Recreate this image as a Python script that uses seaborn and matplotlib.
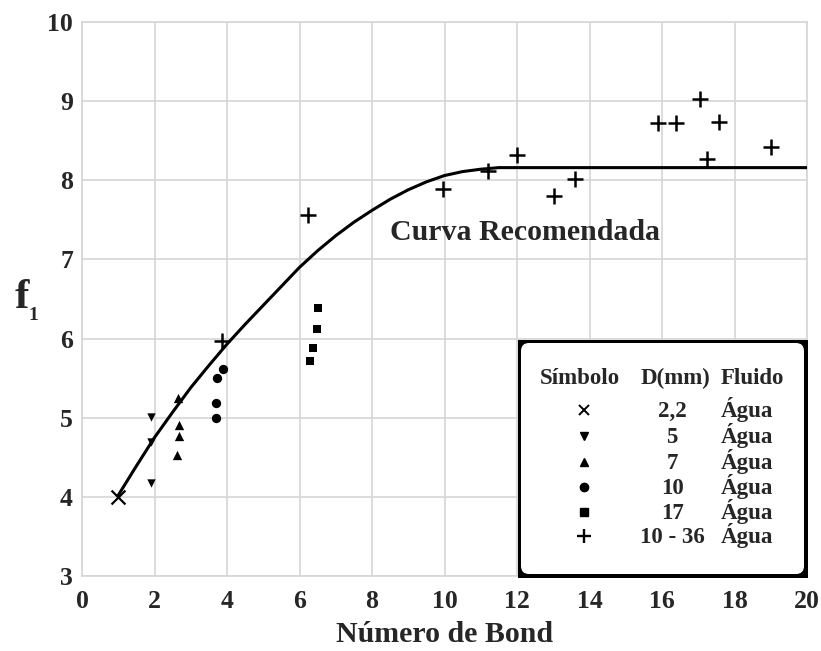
import matplotlib
matplotlib.use("Agg")
import matplotlib.pyplot as plt
import seaborn as sns
import pandas as pd
from matplotlib.patches import Rectangle, FancyBboxPatch
from matplotlib.transforms import IdentityTransform

# recommended curve
curve_x = [1.0, 1.5, 2.0, 2.5, 3.0, 3.5, 4.0, 4.5, 5.0, 5.5, 6.0, 6.5, 7.0,
           7.5, 8.0, 8.5, 9.0, 9.5, 10.0, 10.5, 11.0, 11.5, 20.0]
curve_y = [4.02, 4.39, 4.75, 5.07, 5.38, 5.66, 5.93, 6.18, 6.42, 6.66, 6.90,
           7.11, 7.30, 7.47, 7.62, 7.76, 7.88, 7.98, 8.06, 8.11, 8.14, 8.16, 8.16]

# measured points per group
x_22 = [1.0]
y_22 = [4.0]
x_5 = [1.9, 1.9, 1.9]
y_5 = [5.01, 4.69, 4.17]
x_7 = [2.65, 2.68, 2.68, 2.63]
y_7 = [5.25, 4.91, 4.77, 4.53]
x_10 = [3.9, 3.73, 3.7, 3.7]
y_10 = [5.62, 5.5, 5.19, 5.0]
x_17 = [6.52, 6.49, 6.38, 6.3]
y_17 = [6.38, 6.12, 5.88, 5.72]
x_1036 = [3.87, 6.24, 9.97, 11.19, 11.99, 13.01, 13.59, 15.88, 16.38, 17.04, 17.57, 17.24, 19.0]
y_1036 = [5.97, 7.56, 7.89, 8.12, 8.32, 7.80, 8.02, 8.73, 8.73, 9.03, 8.74, 8.27, 8.42]

legend_d = ["2,2", "5", "7", "10", "17", "10 - 36"]
legend_fluid = ["Água"] * 6

sns.set_style("white")
plt.rcParams["font.family"] = ["Liberation Serif", "DejaVu Serif"]
plt.rcParams["font.weight"] = "bold"

fig = plt.figure(figsize=(8.21, 6.51), dpi=100)
W, H = 821, 651
ax = fig.add_axes([82 / W, 1 - 576 / H, 725 / W, 554 / H])

grid_c = "#d6d6d6"
ax.set_xlim(0, 20)
ax.set_ylim(3, 10)
ax.set_xticks(range(0, 21, 2))
ax.set_yticks(range(3, 11))
ax.grid(True, color=grid_c, linewidth=1.2)
for s in ax.spines.values():
    s.set_color(grid_c)
    s.set_linewidth(1.2)
ax.tick_params(length=0, labelsize=18.5)
ax.tick_params(axis="x", pad=10)
ax.tick_params(axis="y", pad=6.5)
for lab in ax.get_xticklabels() + ax.get_yticklabels():
    lab.set_fontweight("bold")

sns.lineplot(x=curve_x, y=curve_y, color="black", linewidth=2.2, ax=ax,
             sort=False, zorder=3)

groups = [
    (x_22, y_22, "x", 100, 1.6),
    (x_5, y_5, "v", 36, 0),
    (x_7, y_7, "^", 45, 0),
    (x_10, y_10, "o", 45, 0),
    (x_17, y_17, "s", 40, 0),
    (x_1036, y_1036, "+", 120, 1.8),
]
for gx, gy, mk, sz, lw in groups:
    df = pd.DataFrame({"x": gx, "y": gy})
    sns.scatterplot(data=df, x="x", y="y", marker=mk, s=sz, color="black",
                    linewidth=lw, ax=ax, zorder=4, legend=False)

ax.set_xlabel("")
ax.set_ylabel("")

ax.text(390 / W, 1 - 233 / H, "Curva Recomendada", transform=fig.transFigure,
        fontsize=21.5, fontweight="bold", ha="left", va="center")

fig.text(0.5 * (82 + 807) / W, 1 - 635 / H, "Número de Bond", fontsize=21.5,
         fontweight="bold", ha="center", va="center")
fig.text(15 / W, 1 - 308 / H, "f", fontsize=31, fontweight="bold",
         ha="left", va="baseline")
fig.text(28 / W, 1 - 320 / H, "1", fontsize=14, fontweight="bold",
         ha="left", va="baseline")

# legend box (pixel coordinates)
idt = IdentityTransform()
fig.add_artist(Rectangle((518, H - 578), 290, 238, facecolor="black",
                         edgecolor="none", transform=idt, zorder=5))
fig.add_artist(FancyBboxPatch((521, H - 574), 283, 231,
                              boxstyle="round,pad=0,rounding_size=8",
                              facecolor="white", edgecolor="none",
                              transform=idt, zorder=6))


def fx(px):
    return px / W


def fy(py):
    return 1 - py / H


fs = 16.5
base = 7  # baseline offset below row centre, px
fig.text(fx(580), fy(377 + base), "Símbolo", fontsize=fs, fontweight="bold",
         ha="center", va="baseline", zorder=7)
fig.text(fx(675), fy(377 + base), "D(mm)", fontsize=fs, fontweight="bold",
         ha="center", va="baseline", zorder=7)
fig.text(fx(752), fy(377 + base), "Fluido", fontsize=fs, fontweight="bold",
         ha="center", va="baseline", zorder=7)

row_y = [410, 436, 462, 487, 512, 536]
leg_marks = [("x", 7.5, 1.4), ("v", 5.5, 1), ("^", 5.5, 1), ("o", 6, 1),
             ("s", 5.5, 1), ("+", 10, 1.7)]
for ry, (mk, ms, lw), d, fl in zip(row_y, leg_marks, legend_d, legend_fluid):
    fig.add_artist(plt.Line2D([fx(584)], [fy(ry)], marker=mk, markersize=ms,
                              markeredgewidth=lw, color="black",
                              linestyle="none", transform=fig.transFigure,
                              zorder=7))
    fig.text(fx(672), fy(ry + base), d, fontsize=fs, fontweight="bold",
             ha="center", va="baseline", zorder=7)
    fig.text(fx(747), fy(ry + base), fl, fontsize=fs, fontweight="bold",
             ha="center", va="baseline", zorder=7)

fig.savefig("out.png", dpi=100)
